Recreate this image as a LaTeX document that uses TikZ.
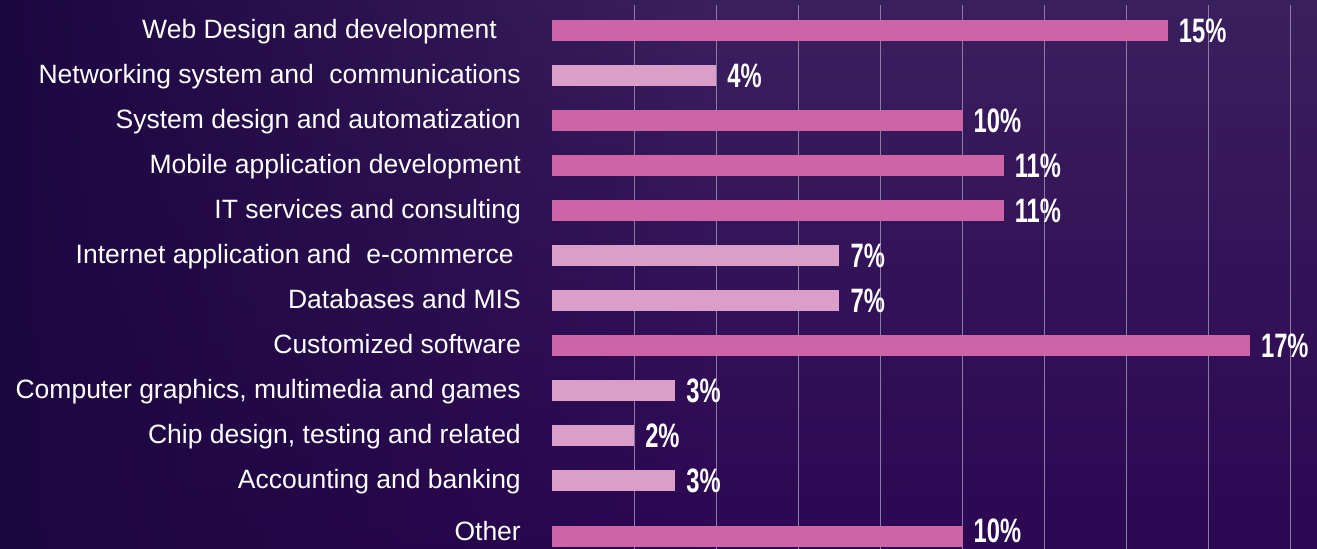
\documentclass[tikz,border=0pt]{standalone}
\usepackage{fontspec}
\setmainfont{Liberation Sans}
\usetikzlibrary{fadings}
\definecolor{bgtop}{HTML}{3A1F5E}
\definecolor{bgbot}{HTML}{2C0752}
\definecolor{bgleft}{HTML}{1C0640}
\definecolor{barA}{HTML}{CD64A5}
\definecolor{barB}{HTML}{DB9EC8}
\definecolor{gridc}{HTML}{8C7BA6}
\tikzset{
  labeltext/.style={anchor=base east, inner sep=0pt, text=white, font=\fontsize{26.6}{28}\selectfont},
  pcttext/.style={anchor=base west, inner sep=0pt, text=white, font=\fontsize{34}{36}\selectfont\bfseries},
  barbox/.style={inner sep=0pt, outer sep=0pt, anchor=north west, minimum height=21bp},
  gridline/.style={draw=gridc, line width=1.1bp}
}
\newcommand{\pctlbl}[1]{\scalebox{0.70}[1]{#1}}
\begin{document}
\begin{tikzpicture}[x=1bp,y=-1bp]
\useasboundingbox (0,0) rectangle (1317,549);
\begin{scope}
\clip (0,0) rectangle (1317,549);
\shade[top color=bgtop, bottom color=bgbot] (0,0) rectangle (1317,549);
\fill[bgleft, path fading=east] (0,0) rectangle (700,549);
% grid
\foreach \k in {1,...,9} {
  \draw[gridline] ({552+82.1*\k},5) -- ({552+82.1*\k},549);
}
% bars: index, value, colour, top, label vertical offset
\foreach \i/\v/\c/\t in {
  0/15/barA/20, 1/4/barB/65, 2/10/barA/110, 3/11/barA/155,
  4/11/barA/200, 5/7/barB/245, 6/7/barB/290, 7/17/barA/335,
  8/3/barB/380, 9/2/barB/425, 10/3/barB/470, 11/10/barA/526} {
  \node[barbox, fill=\c, minimum width={41.05*\v bp}] (bar\i) at (552,\t) {};
}
\end{scope}
\foreach \i/\v/\o in {0/15/12.2, 1/4/12.2, 2/10/12.2, 3/11/12.2, 4/11/12.2,
  5/7/12.2, 6/7/12.2, 7/17/12.2, 8/3/12.2, 9/2/12.2, 10/3/12.2, 11/10/6.0} {
  \node[pcttext] (pct\i) at ([xshift=11bp,yshift=-\o bp]bar\i.east) {\pctlbl{\v\%}};
}
% labels
\node[labeltext] (lab0) at (497,38.5) {Web Design and development};
\node[labeltext] (lab1) at (521,83.5) {Networking system and\hspace{0.3em} communications};
\node[labeltext] (lab2) at (521,128.5) {System design and automatization};
\node[labeltext] (lab3) at (521,173.5) {Mobile application development};
\node[labeltext] (lab4) at (521,218.5) {IT services and consulting};
\node[labeltext] (lab5) at (514,263.5) {Internet application and\hspace{0.3em} e-commerce};
\node[labeltext] (lab6) at (521,308.5) {Databases and MIS};
\node[labeltext] (lab7) at (521,353.5) {Customized software};
\node[labeltext] (lab8) at (521,398.5) {Computer graphics, multimedia and games};
\node[labeltext] (lab9) at (521,443.5) {Chip design, testing and related};
\node[labeltext] (lab10) at (521,488.5) {Accounting and banking};
\node[labeltext] (lab11) at (521,540.5) {Other};
\end{tikzpicture}
\end{document}
